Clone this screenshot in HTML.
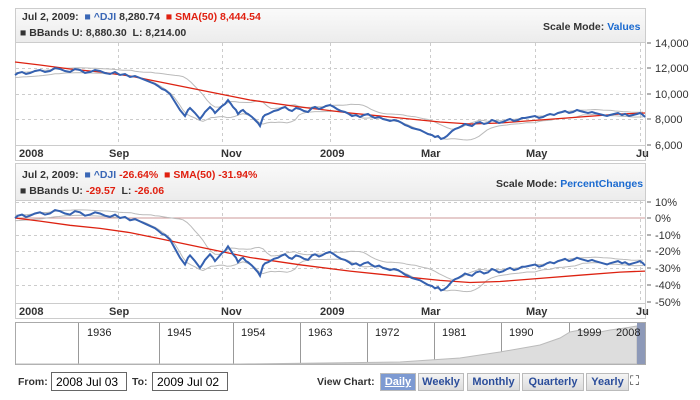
<!DOCTYPE html>
<html><head><meta charset="utf-8"><style>
body{margin:0;width:700px;height:400px;background:#fff;font-family:"Liberation Sans",sans-serif;overflow:hidden;position:relative}
.t{position:absolute;font-size:10.5px;white-space:nowrap}
.b{font-weight:bold}
.box{position:absolute;border:1px solid #666;height:19px;font-size:12px;line-height:19px;padding-left:4px;box-sizing:border-box}
.btn{position:absolute;top:373px;height:18px;background:linear-gradient(#f4f4f4,#dcdcdc);border:1px solid #bbb;box-sizing:border-box;color:#2b4d9a;font-size:11px;font-weight:bold;text-align:center;line-height:16px}
</style></head><body>
<svg id="s" width="700" height="400" style="position:absolute;left:0;top:0" xmlns="http://www.w3.org/2000/svg">
<defs><linearGradient id="hg" x1="0" y1="0" x2="0" y2="1"><stop offset="0" stop-color="#fafafa"/><stop offset="1" stop-color="#ececec"/></linearGradient></defs>
<rect x="15.5" y="8.5" width="630" height="152" fill="#fff" stroke="#ccc"/>
<rect x="16" y="9" width="629" height="33" fill="url(#hg)"/>
<line x1="15" y1="42.5" x2="645" y2="42.5" stroke="#ccc"/>
<line x1="15" y1="145.5" x2="645" y2="145.5" stroke="#ccc"/>
<rect x="15.5" y="163.5" width="630" height="155" fill="#fff" stroke="#ccc"/>
<rect x="16" y="164" width="629" height="36" fill="url(#hg)"/>
<line x1="15" y1="200.5" x2="645" y2="200.5" stroke="#ccc"/>
<line x1="15" y1="303.5" x2="645" y2="303.5" stroke="#ccc"/>
<g id="grid" stroke="#ccc" stroke-dasharray="3,3" stroke-width="1"></g>
<line x1="16" y1="218" x2="645" y2="218" stroke="#c99" stroke-width="1"/>
<g id="series"></g>
<g stroke="#666">
<line x1="647" y1="43" x2="651" y2="43"/><line x1="647" y1="68" x2="651" y2="68"/><line x1="647" y1="94" x2="651" y2="94"/><line x1="647" y1="119" x2="651" y2="119"/><line x1="647" y1="145" x2="651" y2="145"/>
<line x1="647" y1="202" x2="651" y2="202"/><line x1="647" y1="218" x2="651" y2="218"/><line x1="647" y1="235" x2="651" y2="235"/><line x1="647" y1="251" x2="651" y2="251"/><line x1="647" y1="268" x2="651" y2="268"/><line x1="647" y1="285" x2="651" y2="285"/><line x1="647" y1="302" x2="651" y2="302"/>
</g>
<g font-family="Liberation Sans, sans-serif" font-size="11" fill="#333">
<text x="655" y="47">14,000</text><text x="655" y="72">12,000</text><text x="655" y="98">10,000</text><text x="655" y="123">8,000</text><text x="655" y="149">6,000</text>
<text x="655" y="206">10%</text><text x="655" y="222">0%</text><text x="655" y="239">-10%</text><text x="655" y="255">-20%</text><text x="655" y="272">-30%</text><text x="655" y="289">-40%</text><text x="655" y="306">-50%</text>
</g>
<g font-family="Liberation Sans, sans-serif" font-size="11" font-weight="bold" fill="#333">
<text x="19" y="157">2008</text><text x="109" y="157">Sep</text><text x="221" y="157">Nov</text><text x="320" y="157">2009</text><text x="421" y="157">Mar</text><text x="526" y="157">May</text><text x="636" y="157">Ju</text>
<text x="19" y="315">2008</text><text x="109" y="315">Sep</text><text x="221" y="315">Nov</text><text x="320" y="315">2009</text><text x="421" y="315">Mar</text><text x="526" y="315">May</text><text x="636" y="315">Ju</text>
</g>
<rect x="15.5" y="322.5" width="630" height="42" fill="#fff" stroke="#aaa"/>
<g id="nav" stroke="#999"></g>
<path d="M16,364 L240,364 L400,362 L460,358 L500,352 L540,345 L560,338 L570,332 L580,330 L590,333 L600,332 L610,330 L625,328 L637,326 L637,364 Z" fill="#ddd" stroke="#bbb"/>
<rect x="637" y="323" width="8" height="41" fill="#8d99b8"/>
<g font-family="Liberation Sans, sans-serif" font-size="11" fill="#222">
<text x="87" y="336">1936</text><text x="167" y="336">1945</text><text x="241" y="336">1954</text><text x="308" y="336">1963</text><text x="375" y="336">1972</text><text x="442" y="336">1981</text><text x="509" y="336">1990</text><text x="577" y="336">1999</text><text x="616" y="336">2008</text>
</g>
<rect x="631" y="373" width="14" height="14" fill="#fff"/>
<text x="630" y="385" font-size="13" fill="#333">⛶</text>
</svg>
<div class="t b" style="left:22px;top:11px;color:#333">Jul 2, 2009:&nbsp; <span style="color:#3a67b6">■ ^DJI</span> 8,280.74&nbsp; <span style="color:#e02010">■ SMA(50) 8,444.54</span></div>
<div class="t b" style="left:20px;top:27px;color:#333">■ BBands U: 8,880.30&nbsp;&nbsp;L: 8,214.00</div>
<div class="t b" style="left:543px;top:21px;color:#333">Scale Mode: <span style="color:#1a6ad0">Values</span></div>
<div class="t b" style="left:22px;top:169px;color:#333">Jul 2, 2009:&nbsp; <span style="color:#3a67b6">■ ^DJI</span> <span style="color:#e02010">-26.64%</span>&nbsp; <span style="color:#e02010">■ SMA(50) -31.94%</span></div>
<div class="t b" style="left:20px;top:185px;color:#333">■ BBands U: <span style="color:#e02010">-29.57</span>&nbsp;&nbsp;L: <span style="color:#e02010">-26.06</span></div>
<div class="t b" style="left:496px;top:178px;color:#333">Scale Mode: <span style="color:#1a6ad0">PercentChanges</span></div>
<div class="t b" style="left:18px;top:376px;color:#333">From:</div>
<div class="box" style="left:51px;top:372px;width:76px">2008 Jul 03</div>
<div class="t b" style="left:132px;top:376px;color:#333">To:</div>
<div class="box" style="left:152px;top:372px;width:76px">2009 Jul 02</div>
<div class="t b" style="left:317px;top:376px;color:#333">View Chart:</div>
<div class="btn" style="left:380px;width:36px;background:#7d9ad2;color:#fff;text-decoration:underline">Daily</div>
<div class="btn" style="left:418px;width:46px">Weekly</div>
<div class="btn" style="left:467px;width:53px">Monthly</div>
<div class="btn" style="left:522px;width:62px">Quarterly</div>
<div class="btn" style="left:586px;width:43px">Yearly</div>
<script>
var NS="http://www.w3.org/2000/svg";
function el(p,t,a){var e=document.createElementNS(NS,t);for(var k in a)e.setAttribute(k,a[k]);p.appendChild(e);return e;}
var g=document.getElementById('grid');
[118,222,330,430,535].forEach(function(x){el(g,'line',{x1:x+.5,y1:43,x2:x+.5,y2:145});el(g,'line',{x1:x+.5,y1:201,x2:x+.5,y2:303});});
el(g,'line',{x1:640.5,y1:43,x2:640.5,y2:145});el(g,'line',{x1:640.5,y1:201,x2:640.5,y2:303});
[68,94,119].forEach(function(y){el(g,'line',{x1:16,y1:y+.5,x2:645,y2:y+.5});});
[202,235,251,268,285].forEach(function(y){el(g,'line',{x1:16,y1:y+.5,x2:645,y2:y+.5});});
var nav=document.getElementById('nav');
[78,159,233,300,367,434,501,569,637].forEach(function(x){el(nav,'line',{x1:x+.5,y1:323,x2:x+.5,y2:364});});
var dji=[[15,75],[18,73],[22,72],[26,74],[30,73],[35,71],[40,70],[45,72],[50,71],[55,68],[60,69],[65,71],[70,72],[75,69],[80,70],[85,73],[90,72],[95,70],[100,71],[105,73],[110,74],[115,72],[120,75],[125,74],[130,77],[135,76],[140,78],[145,80],[150,82],[155,84],[158,86],[162,89],[165,90],[170,94],[175,102],[180,110],[185,116],[188,110],[190,108],[193,111],[195,113],[200,119],[203,115],[205,112],[210,107],[213,110],[215,113],[219,109],[222,106],[225,104],[228,100],[231,104],[233,107],[236,110],[238,114],[241,111],[243,110],[246,113],[248,114],[252,117],[255,120],[258,123],[260,126],[263,117],[265,115],[268,114],[270,113],[274,111],[278,110],[282,108],[285,107],[289,110],[292,111],[296,108],[300,109],[304,111],[308,112],[312,108],[315,107],[319,109],[322,108],[326,106],[330,105],[334,107],[337,109],[341,111],[345,112],[349,114],[352,116],[356,115],[360,117],[364,115],[368,114],[371,116],[375,118],[379,117],[383,119],[387,120],[390,121],[394,120],[398,121],[402,123],[405,125],[408,126],[412,128],[416,129],[420,130],[424,132],[428,134],[432,135],[435,137],[438,136],[441,139],[444,138],[447,136],[450,133],[452,131],[455,129],[458,128],[462,126],[465,124],[468,125],[472,126],[476,123],[480,122],[484,124],[488,123],[492,120],[495,121],[499,123],[503,122],[507,120],[510,119],[514,121],[518,120],[522,118],[525,118],[530,117],[535,116],[539,118],[543,117],[547,115],[550,114],[554,115],[558,113],[562,112],[565,111],[569,113],[573,112],[577,110],[580,111],[584,112],[588,113],[592,112],[595,113],[599,114],[603,115],[607,116],[610,115],[614,114],[618,113],[622,115],[625,114],[629,116],[633,115],[637,114],[640,113],[643,115],[645,117]];
var sma=[[15,62],[40,65],[70,69],[100,72],[130,76],[160,82],[200,90],[250,100],[300,107],[350,113],[400,118],[440,122],[470,124],[500,123],[540,120],[580,117],[620,114],[645,113]];
function interp(arr,x){for(var i=0;i<arr.length-1;i++){if(x>=arr[i][0]&&x<=arr[i+1][0]){var t=(x-arr[i][0])/(arr[i+1][0]-arr[i][0]);return arr[i][1]+t*(arr[i+1][1]-arr[i][1]);}}return arr[arr.length-1][1];}
var up=[],lo=[];
for(var x=15;x<=645;x+=4){var vals=[];for(var k=-36;k<=0;k+=3){vals.push(interp(dji,Math.max(15,x+k)));}
var mean=vals.reduce(function(a,b){return a+b},0)/vals.length;var sd=Math.sqrt(vals.reduce(function(a,b){return a+(b-mean)*(b-mean)},0)/vals.length);
sd=Math.max(sd,1.5);up.push([x,mean-1.6*sd]);lo.push([x,mean+1.6*sd]);}
function toV(y){return 6000+(145-y)/12.75*1000;}
function pstr(arr){return arr.map(function(p,i){return (i?'L':'M')+p[0].toFixed(1)+','+p[1].toFixed(1);}).join(' ');}
function pct(arr,base){return arr.map(function(p){var r=toV(p[1])/base-1;return [p[0],218-r*166];});}
var s=document.getElementById('series');
var b0=toV(dji[0][1]);
el(s,'path',{d:pstr(up),fill:'none',stroke:'#bbb','stroke-width':1});
el(s,'path',{d:pstr(lo),fill:'none',stroke:'#bbb','stroke-width':1});
el(s,'path',{d:pstr(sma),fill:'none',stroke:'#dd2211','stroke-width':1.3});
el(s,'path',{d:pstr(dji),fill:'none',stroke:'#3561b0','stroke-width':2});
el(s,'path',{d:pstr(pct(up,b0)),fill:'none',stroke:'#bbb','stroke-width':1});
el(s,'path',{d:pstr(pct(lo,b0)),fill:'none',stroke:'#bbb','stroke-width':1});
el(s,'path',{d:pstr(pct(sma,toV(sma[0][1]))),fill:'none',stroke:'#dd2211','stroke-width':1.3});
el(s,'path',{d:pstr(pct(dji,b0)),fill:'none',stroke:'#3561b0','stroke-width':2});
</script>
</body></html>
